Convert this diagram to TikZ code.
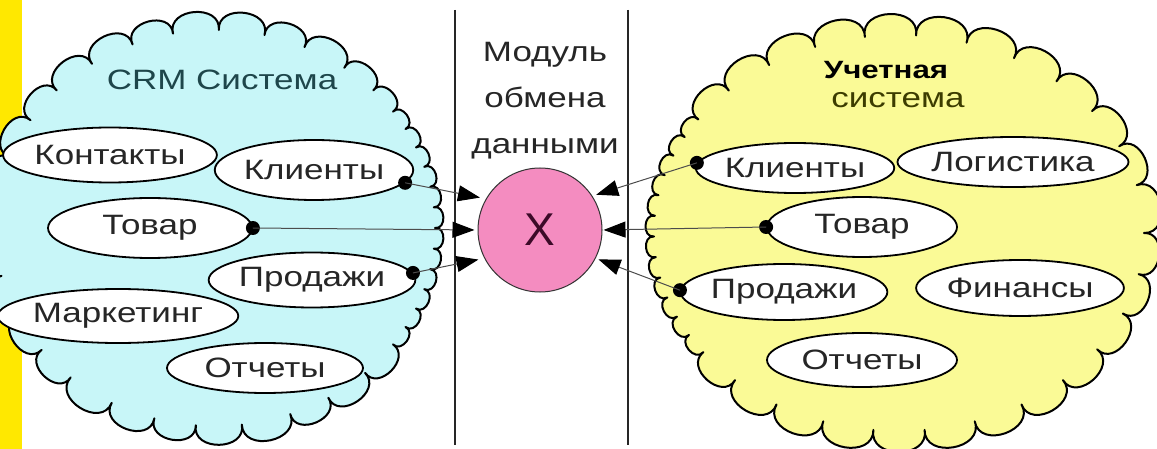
\documentclass[tikz,border=0pt]{standalone}
\usepackage{fontspec}
\setmainfont{Liberation Sans}[FakeStretch=1.25]
\newfontfamily\plainsans{Liberation Sans}
\usetikzlibrary{shapes.geometric,arrows.meta}
\definecolor{crmblue}{RGB}{200,246,248}
\definecolor{acctyellow}{RGB}{250,250,150}
\definecolor{xpink}{RGB}{244,140,192}
\definecolor{baryellow}{RGB}{255,232,0}
\definecolor{crmtext}{RGB}{30,70,75}
\definecolor{accttext}{RGB}{60,60,0}
\begin{document}
\begin{tikzpicture}[x=1pt,y=-1pt,
  lbl/.style={font=\fontsize{28}{34}\selectfont, text=black!85},
  item/.style={ellipse, draw=black, line width=1.8pt, fill=white, inner sep=0pt, lbl},
  puffy/.style={draw=black, line width=2pt, line join=round},
  puff/.style={bend left=100, looseness=1.5},
  dotmark/.style={circle, fill=black, inner sep=0pt, minimum size=14pt},
  link/.style={draw=black!70, line width=1pt, -{Triangle[length=22pt,width=16pt,color=black]}},
  divider/.style={line width=1.4pt, black!85}
]
\useasboundingbox (0,0) rectangle (1157,449);
\fill[white] (0,0) rectangle (1157,449);
\fill[baryellow] (0,0) rectangle (22,449);

% column dividers
\draw[divider] (455,10) -- (455,445);
\draw[divider] (628,10) -- (628,445);

% CRM system cloud (puffs traced clockwise round an ellipse)
\begin{scope}[shift={(215,228)}]
  \path[puffy, fill=crmblue] (-36:220 and 198)
    \foreach \a in {-30,-24,-18,-12,-6,0,6,12,18,24,30,36,47,59,70,83,95,106,118,131,142,154,166,178,189,201,213,224,236,248,259,271,283,294,306,316,324}
      { to[puff] (\a:220 and 198) } -- cycle;
\end{scope}

% accounting system cloud
\begin{scope}[shift={(899,233)}]
  \path[puffy, fill=acctyellow] (0:245 and 198)
    \foreach \a in {12,24,36,48,60,72,84,96,108,120,132,143,149,155,161,167,173,179,185,191,197,203,209,215,226,238,250,262,274,286,298,310,322,334,346,360}
      { to[puff] (\a:245 and 198) } -- cycle;
\end{scope}

\node[lbl, text=crmtext] (crmtitle) at (222,80) {CRM Система};
\node[font=\bfseries\fontsize{25}{28}\selectfont, text=black] (accttitle1) at (886,70) {Учетная};
\node[lbl, text=accttext] (accttitle2) at (898,100) {система};

% exchange module
\node[lbl, align=center, font=\fontsize{28}{46}\selectfont] (mod) at (545,101) {Модуль\\обмена\\данными};
\node[circle, draw=black!80, line width=1pt, fill=xpink, minimum size=124pt, inner sep=0pt,
      font=\plainsans\fontsize{46}{46}\selectfont, text={rgb,255:red,60;green,10;blue,40}] (X) at (540,230) {X};

% CRM entities
\node[item, minimum width=206pt, minimum height=55pt] (kont)  at (110,155) {Контакты};
\node[item, minimum width=195pt, minimum height=60pt] (klL)   at (314,170) {Клиенты};
\node[item, minimum width=204pt, minimum height=60pt] (tovL)  at (150,228) {Товар};
\node[item, minimum width=202pt, minimum height=55pt] (prodL) at (312,280) {Продажи};
\node[item, minimum width=226pt, minimum height=54pt] (mark)  at (118,316) {Маркетинг};
\node[item, minimum width=196pt, minimum height=50pt] (otchL) at (265,368) {Отчеты};

% accounting entities
\node[item, minimum width=186pt, minimum height=50pt] (klR)   at (795,168) {Клиенты};
\node[item, minimum width=200pt, minimum height=50pt] (logi)  at (1013,162) {Логистика};
\node[item, minimum width=190pt, minimum height=60pt] (tovR)  at (862,227) {Товар};
\node[item, minimum width=192pt, minimum height=56pt] (prodR) at (784,292) {Продажи};
\node[item, minimum width=186pt, minimum height=56pt] (fin)   at (1020,288) {Финансы};
\node[item, minimum width=190pt, minimum height=54pt] (otchR) at (862,360) {Отчеты};

% connection points
\node[dotmark] (dklL)   at (klL.-8) {};
\node[dotmark] (dtovL)  at (tovL.0) {};
\node[dotmark] (dprodL) at (prodL.4) {};
\node[dotmark] (dklR)   at (klR.177) {};
\node[dotmark] (dtovR)  at (tovR.180) {};
\node[dotmark] (dprodR) at (prodR.179) {};

% data flows into the module
\draw[link, shorten >=6pt] (dklL.center) -- (X.150);
\draw[link, shorten >=3pt] (dtovL.center) -- (X.180);
\draw[link, shorten >=6pt] (dprodL.center) -- (X.207);
\draw[link, shorten >=4pt] (dklR.center) -- (X.33);
\draw[link, shorten >=1pt] (dtovR.center) -- (X.0);
\draw[link, shorten >=3pt] (dprodR.center) -- (X.-27);
\end{tikzpicture}
\end{document}
